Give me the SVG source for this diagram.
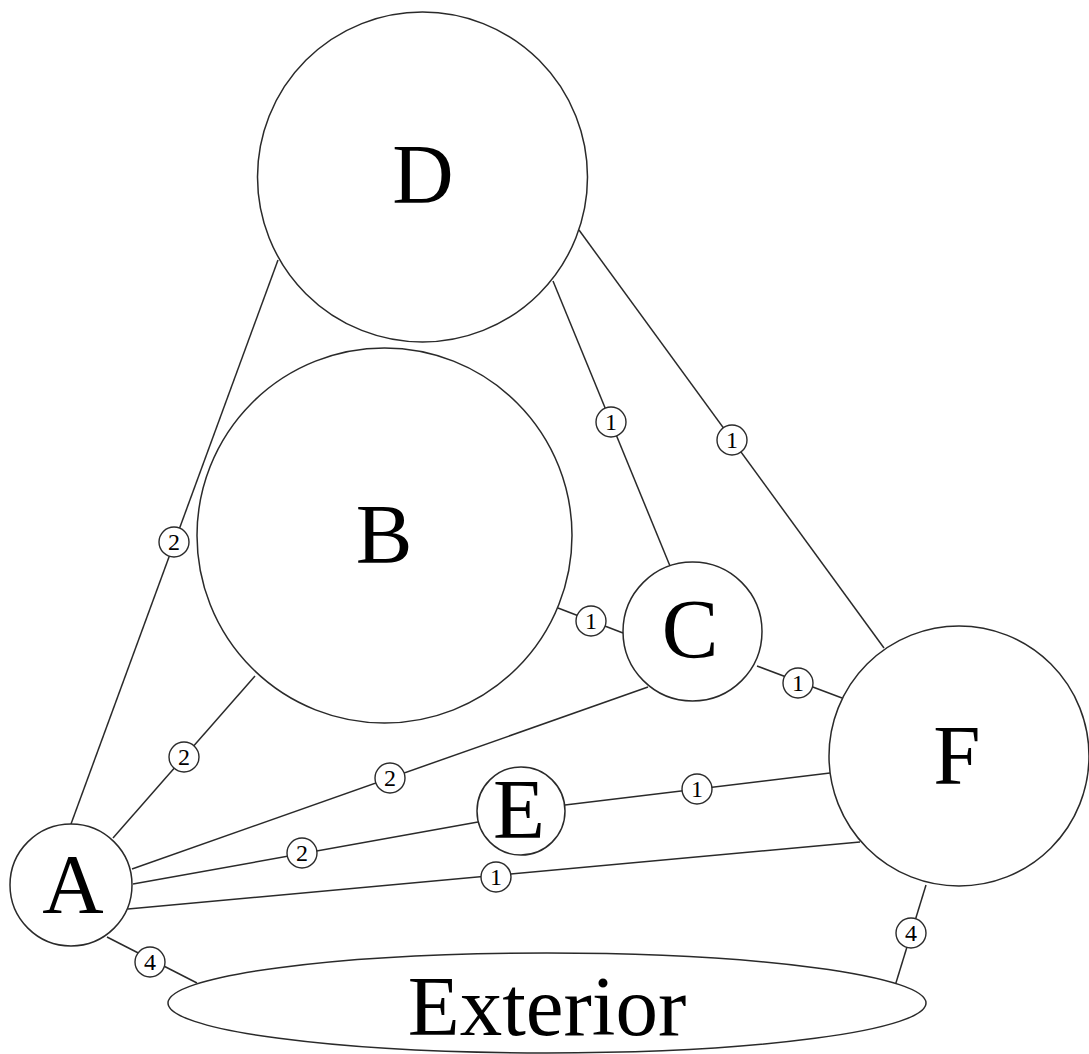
<svg xmlns="http://www.w3.org/2000/svg" width="1089" height="1054" viewBox="0 0 1089 1054">
  <style>
    .node { fill: #fff; stroke: #2a2a2a; stroke-width: 1.5; }
    .name { font-family: "Liberation Serif", "Times New Roman", serif; font-size: 85px; fill: #000; text-anchor: middle; }
    .edge { stroke: #2a2a2a; stroke-width: 1.5; fill: none; }
    .tag { fill: #fff; stroke: #2a2a2a; stroke-width: 1.4; }
    .tagtxt { font-family: "Liberation Serif", "Times New Roman", serif; font-size: 24px; fill: #000; text-anchor: middle; }
  </style>
  <rect width="1089" height="1054" fill="#fff"/>

  <!-- connectors with their weight tags -->
  <g id="connectors">
    <line class="edge" x1="278" y1="260" x2="71" y2="824"/>
    <line class="edge" x1="553" y1="281" x2="670" y2="566"/>
    <line class="edge" x1="579" y1="230" x2="884" y2="648"/>
    <line class="edge" x1="558" y1="608" x2="623" y2="633"/>
    <line class="edge" x1="255" y1="676" x2="113" y2="838"/>
    <line class="edge" x1="757" y1="666" x2="842" y2="698"/>
    <line class="edge" x1="132" y1="869" x2="648" y2="687"/>
    <line class="edge" x1="133" y1="884" x2="478" y2="822"/>
    <line class="edge" x1="565" y1="805" x2="830" y2="773"/>
    <line class="edge" x1="128" y1="909" x2="860" y2="842"/>
    <line class="edge" x1="107" y1="937" x2="197" y2="983"/>
    <line class="edge" x1="926" y1="885" x2="895" y2="986"/>

    <g id="w-DA"><circle class="tag" cx="174" cy="542" r="15"/><text class="tagtxt" x="174" y="550">2</text></g>
    <g id="w-DC"><circle class="tag" cx="611" cy="422" r="15"/><text class="tagtxt" x="611" y="430">1</text></g>
    <g id="w-DF"><circle class="tag" cx="732" cy="440" r="15"/><text class="tagtxt" x="732" y="448">1</text></g>
    <g id="w-BC"><circle class="tag" cx="591" cy="621" r="15"/><text class="tagtxt" x="591" y="629">1</text></g>
    <g id="w-BA"><circle class="tag" cx="184" cy="757" r="15"/><text class="tagtxt" x="184" y="765">2</text></g>
    <g id="w-CF"><circle class="tag" cx="798" cy="683" r="15"/><text class="tagtxt" x="798" y="691">1</text></g>
    <g id="w-AC"><circle class="tag" cx="390" cy="778" r="15"/><text class="tagtxt" x="390" y="786">2</text></g>
    <g id="w-AE"><circle class="tag" cx="302" cy="853" r="15"/><text class="tagtxt" x="302" y="861">2</text></g>
    <g id="w-EF"><circle class="tag" cx="697" cy="789" r="15"/><text class="tagtxt" x="697" y="797">1</text></g>
    <g id="w-AF"><circle class="tag" cx="496" cy="877" r="15"/><text class="tagtxt" x="496" y="885">1</text></g>
    <g id="w-AX"><circle class="tag" cx="150" cy="962" r="15"/><text class="tagtxt" x="150" y="970">4</text></g>
    <g id="w-FX"><circle class="tag" cx="911" cy="933" r="15"/><text class="tagtxt" x="911" y="941">4</text></g>
  </g>

  <!-- nodes -->
  <g id="node-D"><circle class="node" cx="422.5" cy="177" r="165"/><text class="name" x="423" y="203">D</text></g>
  <g id="node-B"><circle class="node" cx="384.5" cy="535.5" r="187.5"/><text class="name" x="384" y="563">B</text></g>
  <g id="node-C"><circle class="node" cx="692.5" cy="631.5" r="69.5"/><text class="name" x="690" y="658">C</text></g>
  <g id="node-E"><circle class="node" cx="521" cy="811" r="44"/><text class="name" x="519" y="838">E</text></g>
  <g id="node-F"><circle class="node" cx="959" cy="756" r="130"/><text class="name" x="957" y="784">F</text></g>
  <g id="node-A"><circle class="node" cx="71" cy="885" r="61"/><text class="name" x="73" y="913">A</text></g>
  <g id="node-Exterior"><ellipse class="node" cx="547" cy="1003" rx="379" ry="50"/><text class="name" x="547" y="1035">Exterior</text></g>
</svg>
